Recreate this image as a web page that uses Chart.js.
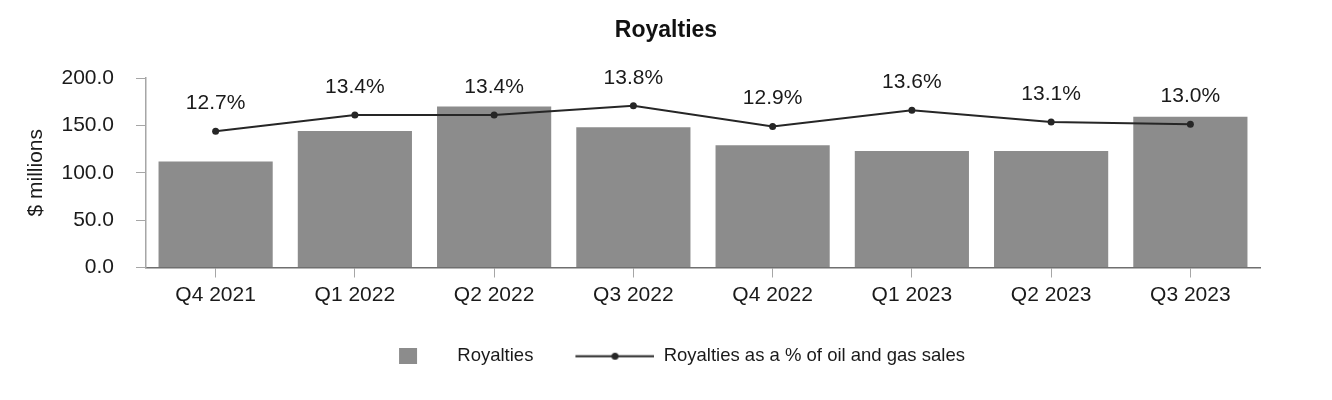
<!DOCTYPE html>
<html>
<head>
<meta charset="utf-8">
<script src="https://cdn.jsdelivr.net/npm/chart.js@4.4.1/dist/chart.umd.min.js"></script>
<style>
  html, body { margin: 0; padding: 0; background: #fff; }
  #wrap { width: 1332px; height: 400px; }
</style>
</head>
<body>
<div id="wrap"><canvas id="c" width="1332" height="400"></canvas></div>
<script>
const categories = ['Q4 2021', 'Q1 2022', 'Q2 2022', 'Q3 2022', 'Q4 2022', 'Q1 2023', 'Q2 2023', 'Q3 2023'];
const royalties = [112, 144, 170, 148, 129, 123, 123, 159];
const royaltyPct = [12.7, 13.4, 13.4, 13.8, 12.9, 13.6, 13.1, 13.0];
const yTickValues = [0, 50, 100, 150, 200];

const BAR_COLOR = '#8c8c8c';
const LINE_COLOR = '#262626';
const TEXT_COLOR = '#1a1a1a';
const FONT = '"Liberation Sans", Arial, sans-serif';

Chart.defaults.font.family = FONT;
Chart.defaults.color = TEXT_COLOR;

// Legend swatches
const SW = 81;
function makeBarSwatch() {
  const c = document.createElement('canvas');
  c.width = SW; c.height = 16;
  const g = c.getContext('2d');
  g.fillStyle = BAR_COLOR;
  g.fillRect(32, 0, 18, 16);
  return c;
}
function makeLineSwatch() {
  const c = document.createElement('canvas');
  c.width = SW; c.height = 9;
  const g = c.getContext('2d');
  g.strokeStyle = LINE_COLOR;
  g.lineWidth = 2;
  g.beginPath();
  g.moveTo(2, 4.5);
  g.lineTo(81, 4.5);
  g.stroke();
  g.fillStyle = LINE_COLOR;
  g.beginPath();
  g.arc(41.6, 4.5, 3.5, 0, Math.PI * 2);
  g.fill();
  return c;
}
const barSwatch = makeBarSwatch();
const lineSwatch = makeLineSwatch();

const pctLabels = {
  id: 'pctLabels',
  afterDatasetsDraw(chart) {
    const meta = chart.getDatasetMeta(1);
    const ctx = chart.ctx;
    ctx.save();
    ctx.font = '21px ' + FONT;
    ctx.fillStyle = TEXT_COLOR;
    ctx.textAlign = 'center';
    ctx.textBaseline = 'middle';
    meta.data.forEach((pt, i) => {
      ctx.fillText(royaltyPct[i].toFixed(1) + '%', pt.x, pt.y - 28);
    });
    ctx.restore();
  }
};

new Chart(document.getElementById('c'), {
  type: 'bar',
  data: {
    labels: categories,
    datasets: [
      {
        type: 'bar',
        label: 'Royalties',
        data: royalties,
        backgroundColor: BAR_COLOR,
        borderWidth: 0,
        barPercentage: 0.82,
        categoryPercentage: 1.0,
        yAxisID: 'y',
        order: 2
      },
      {
        type: 'line',
        label: 'Royalties as a % of oil and gas sales',
        data: royaltyPct,
        borderColor: LINE_COLOR,
        backgroundColor: LINE_COLOR,
        borderWidth: 2,
        pointRadius: 3.5,
        pointHoverRadius: 3.5,
        pointBackgroundColor: LINE_COLOR,
        pointBorderWidth: 0,
        tension: 0,
        fill: false,
        yAxisID: 'y1',
        order: 1
      }
    ]
  },
  options: {
    responsive: false,
    animation: false,
    layout: { padding: { top: 0, left: 0, right: 0, bottom: 24.5 } },
    plugins: {
      title: {
        display: true,
        text: 'Royalties',
        color: '#111',
        font: { size: 23, weight: 'bold', family: FONT },
        padding: { top: 17, bottom: 33.4 }
      },
      legend: {
        position: 'bottom',
        labels: {
          usePointStyle: true,
          pointStyleWidth: SW,
          padding: 40,
          color: TEXT_COLOR,
          font: { size: 18.5, family: FONT },
          generateLabels(chart) {
            const items = Chart.defaults.plugins.legend.labels.generateLabels(chart);
            items.sort((a, b) => a.datasetIndex - b.datasetIndex);
            items.forEach(it => {
              it.pointStyle = it.datasetIndex === 0 ? barSwatch : lineSwatch;
            });
            return items;
          }
        }
      },
      tooltip: { enabled: false }
    },
    scales: {
      x: {
        offset: true,
        grid: { offset: false, drawOnChartArea: false, drawTicks: true, tickLength: 10, color: '#a6a6a6' },
        border: { display: true, color: '#6f6f6f', width: 1.5 },
        ticks: { padding: 5, maxRotation: 0, color: TEXT_COLOR, font: { size: 21 } },
        afterFit(s) { s.height = 39.5; }
      },
      y: {
        position: 'left',
        min: 0,
        max: 200,
        afterBuildTicks(s) { s.ticks = yTickValues.map(v => ({ value: v })); },
        ticks: {
          padding: 22,
          color: TEXT_COLOR,
          font: { size: 21 },
          callback: v => Number(v).toFixed(1)
        },
        grid: { drawOnChartArea: false, drawTicks: true, tickLength: 10, color: '#a6a6a6' },
        border: { display: true, color: '#a6a6a6', width: 1.5 },
        title: {
          display: true,
          text: '$ millions',
          color: TEXT_COLOR,
          font: { size: 21 },
          padding: { top: 24, bottom: 0 }
        },
        afterFit(s) { s.width = 146; }
      },
      y1: {
        position: 'right',
        min: 6.8,
        max: 15.0,
        display: true,
        ticks: { display: false },
        grid: { display: false, drawTicks: false },
        border: { display: false },
        afterFit(s) { s.width = 72; }
      }
    }
  },
  plugins: [pctLabels]
});
</script>
</body>
</html>
